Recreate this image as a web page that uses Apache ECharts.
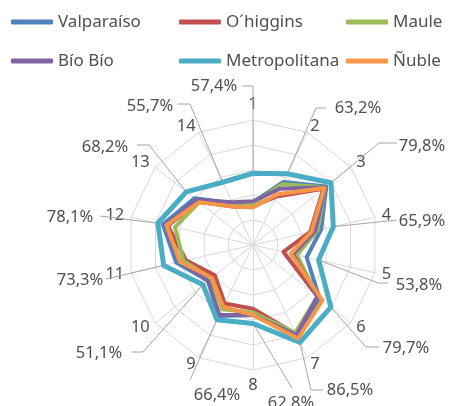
<!DOCTYPE html>
<html><head><meta charset="utf-8">
<script src="https://cdn.jsdelivr.net/npm/echarts@6/dist/echarts.min.js"></script>
<style>html,body{margin:0;padding:0;background:#fff}#c{width:451px;height:406px}</style>
</head><body><div id="c"></div>
<script>
// ---- data ----
const axisNames = ['1','2','3','4','5','6','7','8','9','10','11','12','13','14'];
const seriesNames = ['Valparaíso','O´higgins','Maule','Bío Bío','Metropolitana','Ñuble'];
const valparaiso    = [0.34,0.56,0.75,0.56,0.44,0.68,0.81,0.56,0.63,0.46,0.63,0.74,0.60,0.37];
const ohiggins      = [0.31,0.43,0.72,0.47,0.25,0.66,0.79,0.51,0.52,0.39,0.55,0.70,0.55,0.34];
const maule         = [0.33,0.54,0.74,0.53,0.36,0.66,0.78,0.54,0.57,0.43,0.57,0.64,0.55,0.35];
const biobio        = [0.35,0.50,0.74,0.51,0.33,0.66,0.80,0.56,0.62,0.46,0.60,0.72,0.58,0.38];
const metropolitana = [0.574,0.632,0.798,0.659,0.538,0.797,0.865,0.628,0.664,0.511,0.733,0.781,0.682,0.557];
const nuble         = [0.30,0.45,0.73,0.48,0.31,0.71,0.83,0.56,0.55,0.42,0.60,0.71,0.55,0.34];
const allSeries = [valparaiso, ohiggins, maule, biobio, metropolitana, nuble];

// ---- styles / layout ----
const colors = ['#4F81BD','#C0504D','#9BBB59','#8064A2','#4BACC6','#F79646'];
const widths = [4,4,4,4,5,4];
const FONT = '"Noto Sans", "Open Sans", sans-serif';
const TXT = '#505050';
const labelPos = [[214,86],[358,108],[422,146],[422,221],[419,285],[406,348],[350,390],[291,403],[217,395],[99,353],[80,280],[70,217],[105,147],[150,106]];
const leaderPts = [[[242,86],[253,86]],[[326,108],[316,108]],[[397,143],[379,143]],[[397,220]],[[388,283],[378,283]],[[379,347],[366,347]],[[323,390],[311,390]],[[292,388]],[[190,380]],[[132,352],[143,352]],[[106,279]],[[100,216]],[[137,145],[149,145]],[[177,104],[190,104]]];

// ECharts places indicators counter-clockwise; reorder so axes run clockwise
const order = [0].concat(axisNames.map((_,i)=>i).slice(1).reverse());

const chart = echarts.init(document.getElementById('c'), null, {renderer:'canvas'});
const legendCols = [[0,3],[1,4],[2,5]];
const legendLeft = [6,174,341];
const option = {
  animation:false,
  backgroundColor:'#fff',
  legend: legendCols.map((col,ci)=>({
    orient:'vertical', left:legendLeft[ci], top:7, itemGap:19,
    itemWidth:42, itemHeight:5, icon:'roundRect',
    data: col.map(k=>seriesNames[k]),
    textStyle:{color:TXT, fontSize:17, fontFamily:FONT, lineHeight:20}
  })),
  radar:{
    center:[253,245], radius:125, startAngle:90, splitNumber:5, shape:'polygon',
    indicator: order.map(i=>({name:axisNames[i], min:0, max:1})),
    nameGap:7,
    axisName:{color:TXT, fontSize:16.5, fontFamily:FONT},
    splitLine:{lineStyle:{color:'#d9d9d9', width:1}},
    splitArea:{show:false},
    axisLine:{lineStyle:{color:'#d9d9d9', width:1}},
    axisTick:{show:false}, axisLabel:{show:false}
  },
  series: allSeries.map((arr,k)=>({
    type:'radar', name:seriesNames[k], symbol:'none', z:2+k,
    itemStyle:{color:colors[k]},
    lineStyle:{color:colors[k], width:widths[k]},
    data:[{name:seriesNames[k], value: order.map(i=>arr[i])}]
  }))
};
chart.setOption(option);

// data labels with leader lines for Metropolitana
const cs = chart.getModel().getComponent('radar',0).coordinateSystem;
const graphics = [];
metropolitana.forEach((v,i)=>{
  const p = cs.dataToPoint(v, order.indexOf(i));
  const pts = leaderPts[i].concat([[p[0],p[1]]]);
  graphics.push({type:'polyline', z:1, shape:{points:pts}, style:{stroke:'#a6a6a6', lineWidth:1, fill:null}, silent:true});
  graphics.push({type:'text', z:10, x:labelPos[i][0], y:labelPos[i][1],
    style:{text:(v*100).toFixed(1).replace('.',',')+'%', fill:TXT, font:'16.5px '+FONT, textAlign:'center', textVerticalAlign:'middle'}});
});
chart.setOption({graphic:graphics});
</script></body></html>
